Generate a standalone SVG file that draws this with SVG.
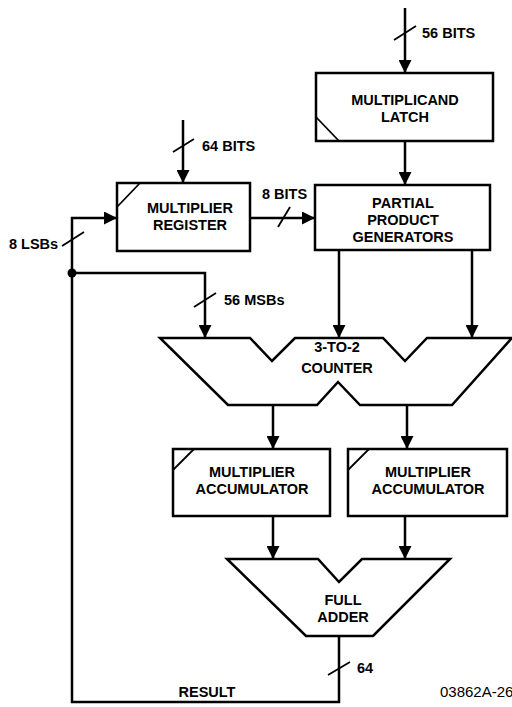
<svg xmlns="http://www.w3.org/2000/svg" width="512" height="707" viewBox="0 0 512 707">
<style>
.box{fill:#fff;stroke:#000;stroke-width:2.5}
.ln{fill:none;stroke:#000;stroke-width:2.5}
.sl{fill:none;stroke:#000;stroke-width:1.8}
.t{font-family:"Liberation Sans",Arial,sans-serif;font-weight:bold;font-size:14.5px;fill:#000}
.c{text-anchor:middle}
.id{font-family:"Liberation Sans",Arial,sans-serif;font-size:15px;fill:#000}
</style>
<defs>
<marker id="ah" markerWidth="13" markerHeight="13" viewBox="0 0 13 13" refX="13" refY="6.5" orient="auto" markerUnits="userSpaceOnUse">
<path d="M0,0 L13,6.5 L0,13 z" fill="#000"/>
</marker>
</defs>
<rect width="512" height="707" fill="#fff"/>

<g id="connectors">
<line class="ln" x1="405" y1="8" x2="405" y2="73" marker-end="url(#ah)"/>
<line class="sl" x1="394" y1="40" x2="416" y2="26"/>
<text class="t" x="422" y="38">56 BITS</text>
<line class="ln" x1="405" y1="141" x2="405" y2="185" marker-end="url(#ah)"/>
<line class="ln" x1="183" y1="120" x2="183" y2="183" marker-end="url(#ah)"/>
<line class="sl" x1="173" y1="152" x2="194" y2="139"/>
<text class="t" x="202" y="151">64 BITS</text>
<line class="ln" x1="250" y1="218" x2="315" y2="218" marker-end="url(#ah)"/>
<line class="sl" x1="278" y1="227" x2="290" y2="207"/>
<text class="t" x="262" y="199">8 BITS</text>
<polyline class="ln" points="339,636 339,702 72,702 72,218 117,218" marker-end="url(#ah)"/>
<line class="sl" x1="62" y1="246" x2="84" y2="232"/>
<text class="t" x="9" y="249">8 LSBs</text>
<line class="sl" x1="328" y1="675" x2="350" y2="662"/>
<text class="t" x="357" y="673">64</text>
<text class="t c" x="207" y="697">RESULT</text>
<polyline class="ln" points="72,273 205,273 205,338" marker-end="url(#ah)"/>
<circle cx="72" cy="273" r="4.5" fill="#000"/>
<line class="sl" x1="194" y1="307" x2="216" y2="293"/>
<text class="t" x="224" y="305">56 MSBs</text>
<line class="ln" x1="339" y1="250" x2="339" y2="338" marker-end="url(#ah)"/>
<line class="ln" x1="472" y1="250" x2="472" y2="338" marker-end="url(#ah)"/>
<line class="ln" x1="273" y1="405" x2="273" y2="449" marker-end="url(#ah)"/>
<line class="ln" x1="407" y1="405" x2="407" y2="449" marker-end="url(#ah)"/>
<line class="ln" x1="273" y1="516" x2="273" y2="559" marker-end="url(#ah)"/>
<line class="ln" x1="405" y1="516" x2="405" y2="559" marker-end="url(#ah)"/>
</g>

<g id="multiplicand-latch">
<rect class="box" x="316" y="73" width="177" height="68"/>
<line class="sl" x1="316" y1="117" x2="339" y2="141"/>
<text class="t c" x="405" y="105">MULTIPLICAND</text>
<text class="t c" x="405" y="122">LATCH</text>
</g>

<g id="multiplier-register">
<rect class="box" x="117" y="183" width="133" height="68"/>
<line class="sl" x1="117" y1="207" x2="140" y2="183"/>
<text class="t c" x="190" y="213">MULTIPLIER</text>
<text class="t c" x="190" y="230">REGISTER</text>
</g>

<g id="partial-product-generators">
<rect class="box" x="315" y="185" width="175" height="65"/>
<text class="t c" x="403" y="208">PARTIAL</text>
<text class="t c" x="403" y="225">PRODUCT</text>
<text class="t c" x="403" y="242">GENERATORS</text>
</g>

<g id="counter">
<polygon class="box" points="160,338 250,338 272,361 295,338 383,338 405,361 427,338 512,338 452,405 360,405 338,382 317,405 228,405"/>
<text class="t c" x="337" y="352">3-TO-2</text>
<text class="t c" x="337" y="373">COUNTER</text>
</g>

<g id="accumulator-left">
<rect class="box" x="173" y="449" width="157" height="67"/>
<line class="sl" x1="173" y1="470" x2="194" y2="449"/>
<text class="t c" x="252" y="477">MULTIPLIER</text>
<text class="t c" x="252" y="494">ACCUMULATOR</text>
</g>

<g id="accumulator-right">
<rect class="box" x="348" y="449" width="159" height="67"/>
<line class="sl" x1="348" y1="470" x2="369" y2="449"/>
<text class="t c" x="428" y="477">MULTIPLIER</text>
<text class="t c" x="428" y="494">ACCUMULATOR</text>
</g>

<g id="full-adder">
<polygon class="box" points="227,559 318,559 339,582 362,559 450,559 373,636 306,636"/>
<text class="t c" x="343" y="605">FULL</text>
<text class="t c" x="343" y="622">ADDER</text>
</g>

<text class="id" x="440" y="697">03862A-26</text>
</svg>
